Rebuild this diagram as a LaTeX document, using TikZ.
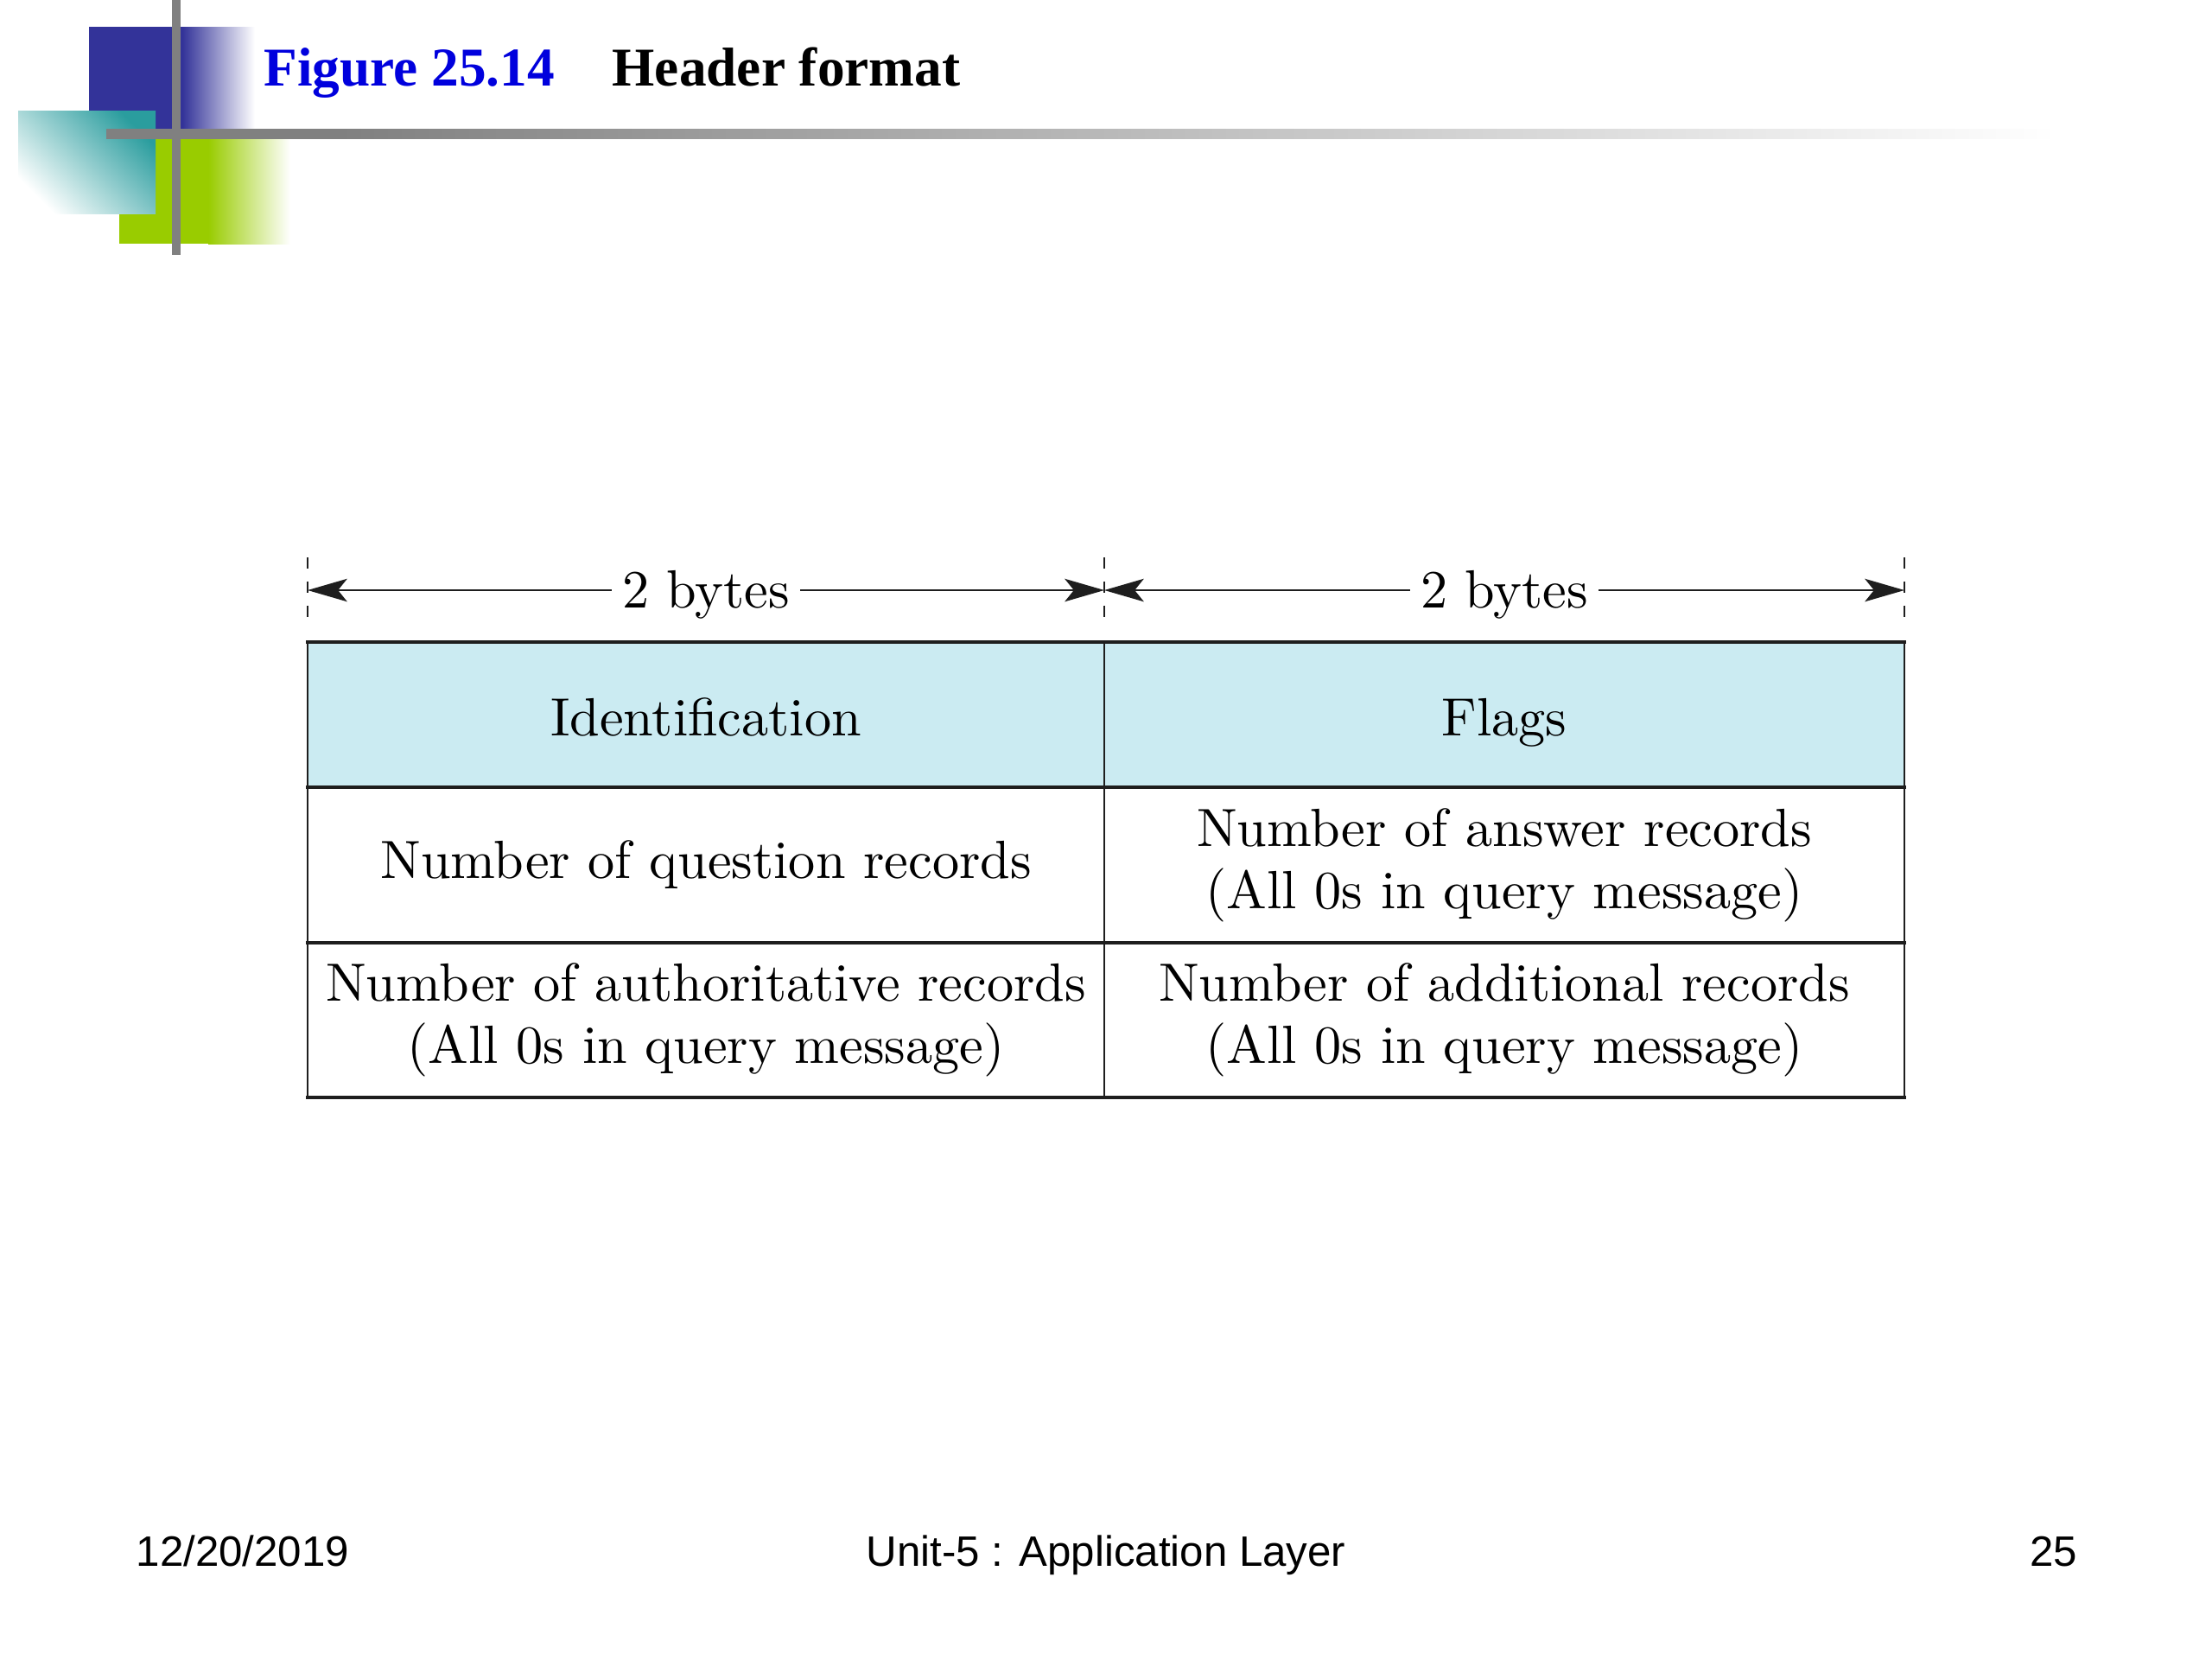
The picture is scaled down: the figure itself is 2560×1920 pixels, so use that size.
\documentclass[tikz,border=0pt]{standalone}
\usepackage{fontspec}
\newfontfamily\titlefont{Liberation Serif}
\newfontfamily\footfont{Liberation Sans}
\newfontfamily\cellfont{lmroman10-regular.otf}
\usetikzlibrary{arrows.meta}
\definecolor{hdrblue}{RGB}{203,235,242}
\definecolor{decoblue}{RGB}{51,51,153}
\definecolor{decogreen}{RGB}{153,204,0}
\definecolor{decoteal}{RGB}{42,157,158}
\definecolor{decogray}{RGB}{128,128,128}
\definecolor{titleblue}{RGB}{0,0,221}
\definecolor{gridline}{RGB}{30,30,30}
\pgfdeclarehorizontalshading{grayline}{100bp}{color(0bp)=(decogray); color(25bp)=(decogray); color(31bp)=(decogray); color(75bp)=(white); color(100bp)=(white)}
\begin{document}
\begin{tikzpicture}[x=0.01cm,y=-0.01cm,
  hline/.style={line width=1.15pt, draw=gridline, line cap=rect},
  vline/.style={line width=0.75pt, draw=gridline},
  celltext/.style={font=\cellfont\fontsize{17.7}{20.5}\selectfont, align=center, inner sep=0pt},
  ticksty/.style={line width=0.6pt, draw=gridline, dash pattern=on 3.7pt off 4.2pt},
  dimarrow/.style={line width=0.75pt, draw=gridline, {Stealth[length=13pt,width=7.5pt,inset=3pt]}-{Stealth[length=13pt,width=7.5pt,inset=3pt]}},
  dimlabel/.style={font=\cellfont\fontsize{17.7}{20.5}\selectfont, fill=white, inner xsep=3.5pt, inner ysep=1pt, text height=11.9pt, text depth=0pt},
  footer/.style={font=\footfont\fontsize{14}{16}\selectfont, inner sep=0pt},
  titletext/.style={font=\titlefont\bfseries\fontsize{18}{21}\selectfont, inner sep=0pt}]
\useasboundingbox (0,0) rectangle (2560,1920);
\fill[white] (0,0) rectangle (2560,1920);

% decoration
\fill[decoblue] (103,31) rectangle (212,150);
\shade[left color=decoblue, right color=white] (211,31) rectangle (295,150);
\fill[decogreen] (138,158) rectangle (242,282);
\shade[left color=decogreen, right color=white] (241,158) rectangle (336,282);
\shade[top color=decoteal, bottom color=white, shading angle=-45] (21,128) rectangle (180,247);
\shade[shading=grayline] (123,149) rectangle (2380,160);
\fill[decogray] (199,0) rectangle (209,295);

% title
\node[titletext, text=titleblue, anchor=base west] (fig) at (305,99) {Figure 25.14};
\node[titletext, anchor=base west] (ttl) at (708,99) {Header format};

% table
\fill[hdrblue] (356,743) rectangle (2204,911);
\draw[vline] (356,743) -- (356,1270);
\draw[vline] (1278,743) -- (1278,1270);
\draw[vline] (2204,743) -- (2204,1270);
\draw[hline] (356,743) -- (2204,743);
\draw[hline] (356,911) -- (2204,911);
\draw[hline] (356,1091) -- (2204,1091);
\draw[hline] (356,1270) -- (2204,1270);

\node[celltext, anchor=base] (id) at (817,851) {Identification};
\node[celltext, anchor=base] (flags) at (1741,851) {Flags};
\node[celltext, anchor=base] (qr) at (817,1016) {Number of question records};
\node[celltext] (ar) at (1741,1001) {Number of answer records\\(All 0s in query message)};
\node[celltext] (auth) at (817,1180) {Number of authoritative records\\(All 0s in query message)};
\node[celltext] (add) at (1741,1180) {Number of additional records\\(All 0s in query message)};

% dimension lines
\draw[ticksty] (356,645) -- (356,720);
\draw[ticksty] (1278,645) -- (1278,720);
\draw[ticksty] (2204,645) -- (2204,720);
\coordinate (dl) at (356,683);
\coordinate (dm) at (1278,683);
\coordinate (dr) at (2204,683);
\draw[dimarrow] (dl) -- node[dimlabel] (b1) {2 bytes} (dm);
\draw[dimarrow] (dm) -- node[dimlabel] (b2) {2 bytes} (dr);

% footer
\node[footer, anchor=base west] (date) at (157,1812) {12/20/2019};
\node[footer, anchor=base] (unit) at (1280,1812) {Unit-5 : Application Layer};
\node[footer, anchor=base east] (page) at (2405,1812) {25};
\end{tikzpicture}
\end{document}
